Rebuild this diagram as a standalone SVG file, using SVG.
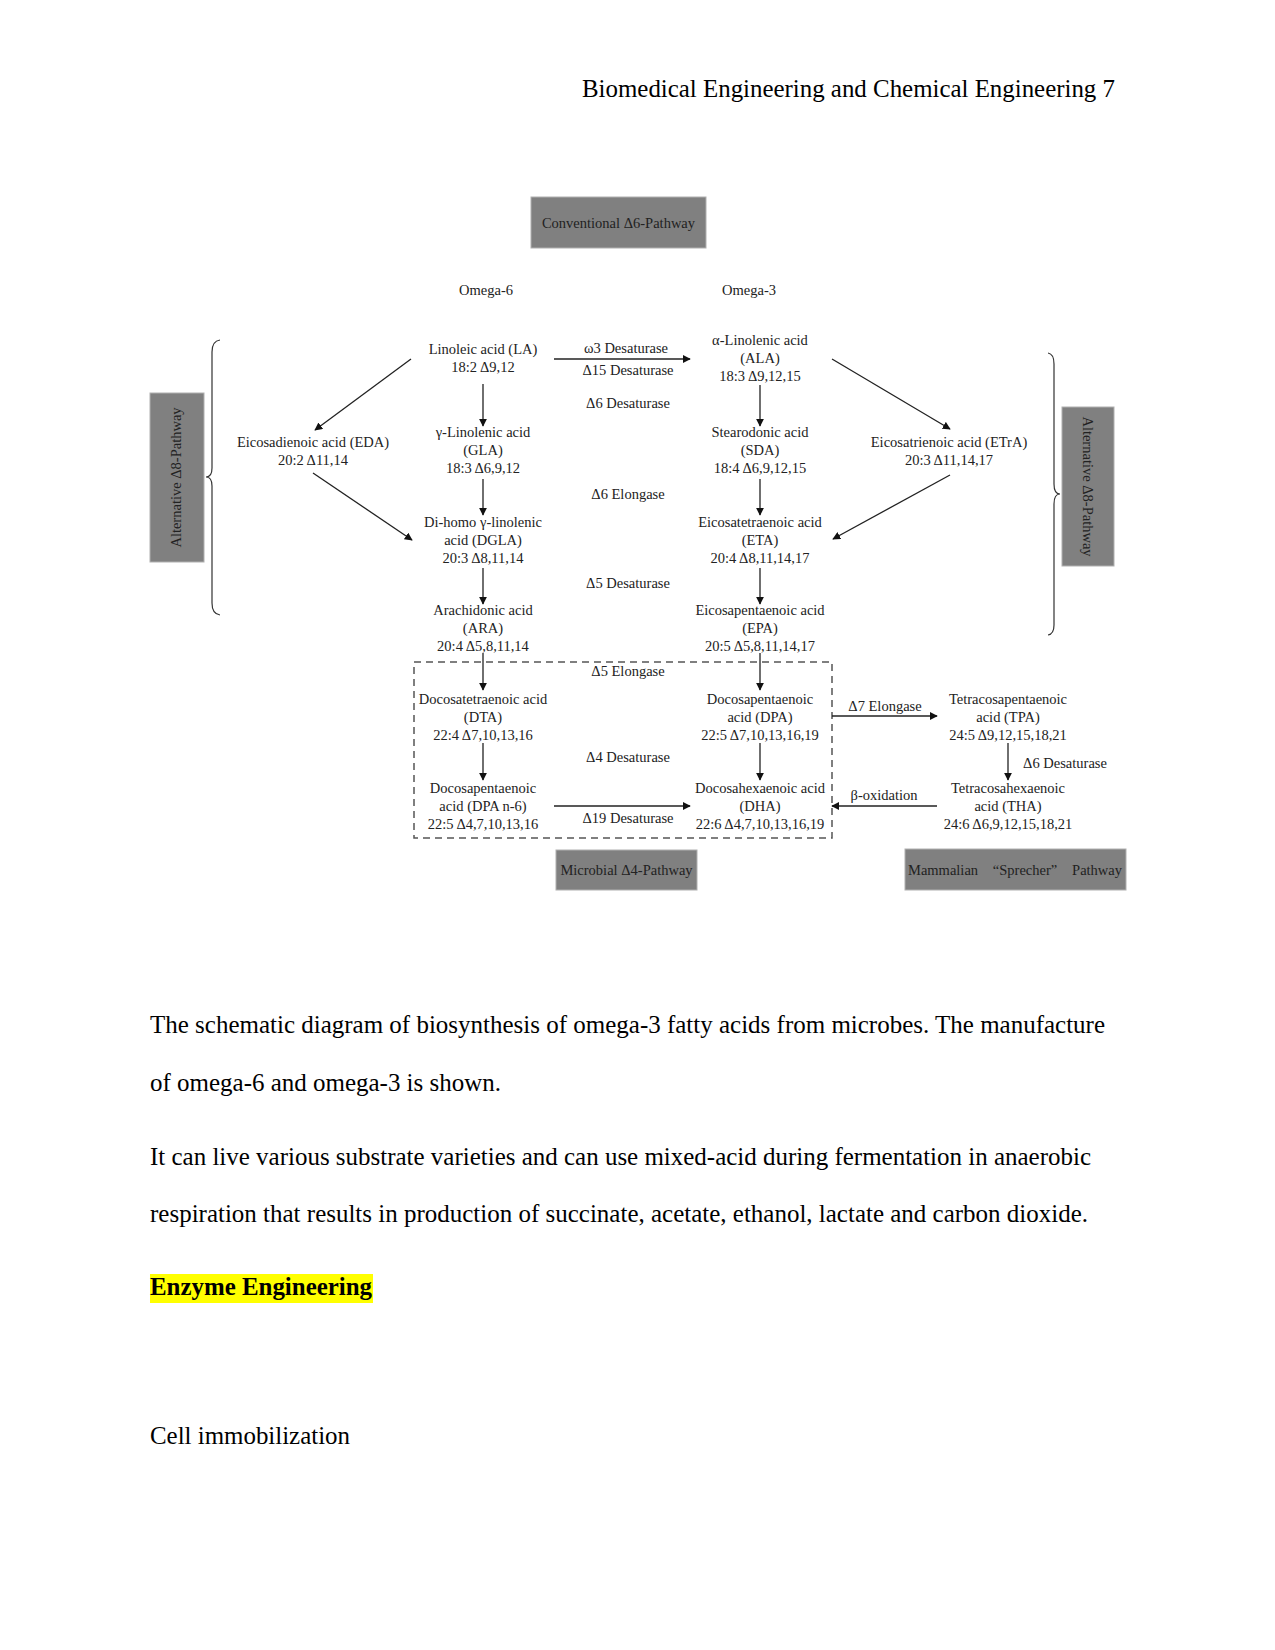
<svg xmlns="http://www.w3.org/2000/svg" width="1275" height="1650" viewBox="0 0 1275 1650">
<defs>
<marker id="ah" viewBox="0 0 10 10" refX="9" refY="5" markerWidth="8" markerHeight="8" markerUnits="userSpaceOnUse" orient="auto">
<path d="M0,0 L10,5 L0,10 z" fill="#111"/>
</marker>
<style>
.t{font-family:"Liberation Serif","Times New Roman",serif;font-size:14.5px;fill:#222;text-anchor:middle}
.b{font-family:"Liberation Serif","Times New Roman",serif;font-size:25px;fill:#000}
.box{fill:#808080;stroke:#b0b0b0;stroke-width:1}
.c{stroke:#222;stroke-width:1.3;fill:none;marker-end:url(#ah)}
.br{stroke:#333;stroke-width:1.2;fill:none}
</style>
</defs>
<rect width="1275" height="1650" fill="#fff"/>
<text class="b" x="1115" y="97" text-anchor="end" textLength="533" lengthAdjust="spacingAndGlyphs">Biomedical Engineering and Chemical Engineering 7</text>

<g id="box-conventional"><rect class="box" x="531" y="197" width="175" height="51"/><text class="t" x="618.5" y="228">Conventional Δ6-Pathway</text></g>
<g id="label-omega6"><text class="t" x="486" y="295">Omega-6</text></g>
<g id="label-omega3"><text class="t" x="749" y="295">Omega-3</text></g>

<g id="node-LA"><text class="t" x="483" y="354">Linoleic acid (LA)</text><text class="t" x="483" y="372">18:2 Δ9,12</text></g>
<g id="node-ALA"><text class="t" x="760" y="345">α-Linolenic acid</text><text class="t" x="760" y="363">(ALA)</text><text class="t" x="760" y="381">18:3 Δ9,12,15</text></g>
<g id="node-GLA"><text class="t" x="483" y="437">γ-Linolenic acid</text><text class="t" x="483" y="455">(GLA)</text><text class="t" x="483" y="473">18:3 Δ6,9,12</text></g>
<g id="node-SDA"><text class="t" x="760" y="437">Stearodonic acid</text><text class="t" x="760" y="455">(SDA)</text><text class="t" x="760" y="473">18:4 Δ6,9,12,15</text></g>
<g id="node-EDA"><text class="t" x="313" y="447">Eicosadienoic acid (EDA)</text><text class="t" x="313" y="465">20:2 Δ11,14</text></g>
<g id="node-ETrA"><text class="t" x="949" y="447">Eicosatrienoic acid (ETrA)</text><text class="t" x="949" y="465">20:3 Δ11,14,17</text></g>
<g id="node-DGLA"><text class="t" x="483" y="527">Di-homo γ-linolenic</text><text class="t" x="483" y="545">acid (DGLA)</text><text class="t" x="483" y="563">20:3 Δ8,11,14</text></g>
<g id="node-ETA"><text class="t" x="760" y="527">Eicosatetraenoic acid</text><text class="t" x="760" y="545">(ETA)</text><text class="t" x="760" y="563">20:4 Δ8,11,14,17</text></g>
<g id="node-ARA"><text class="t" x="483" y="615">Arachidonic acid</text><text class="t" x="483" y="633">(ARA)</text><text class="t" x="483" y="651">20:4 Δ5,8,11,14</text></g>
<g id="node-EPA"><text class="t" x="760" y="615">Eicosapentaenoic acid</text><text class="t" x="760" y="633">(EPA)</text><text class="t" x="760" y="651">20:5 Δ5,8,11,14,17</text></g>
<g id="node-DTA"><text class="t" x="483" y="704">Docosatetraenoic acid</text><text class="t" x="483" y="722">(DTA)</text><text class="t" x="483" y="740">22:4 Δ7,10,13,16</text></g>
<g id="node-DPA"><text class="t" x="760" y="704">Docosapentaenoic</text><text class="t" x="760" y="722">acid (DPA)</text><text class="t" x="760" y="740">22:5 Δ7,10,13,16,19</text></g>
<g id="node-TPA"><text class="t" x="1008" y="704">Tetracosapentaenoic</text><text class="t" x="1008" y="722">acid (TPA)</text><text class="t" x="1008" y="740">24:5 Δ9,12,15,18,21</text></g>
<g id="node-DPAn6"><text class="t" x="483" y="793">Docosapentaenoic</text><text class="t" x="483" y="811">acid (DPA n-6)</text><text class="t" x="483" y="829">22:5 Δ4,7,10,13,16</text></g>
<g id="node-DHA"><text class="t" x="760" y="793">Docosahexaenoic acid</text><text class="t" x="760" y="811">(DHA)</text><text class="t" x="760" y="829">22:6 Δ4,7,10,13,16,19</text></g>
<g id="node-THA"><text class="t" x="1008" y="793">Tetracosahexaenoic</text><text class="t" x="1008" y="811">acid (THA)</text><text class="t" x="1008" y="829">24:6 Δ6,9,12,15,18,21</text></g>

<g id="enzyme-labels">
<text class="t" x="626" y="353">ω3 Desaturase</text>
<text class="t" x="628" y="375">Δ15 Desaturase</text>
<text class="t" x="628" y="408">Δ6 Desaturase</text>
<text class="t" x="628" y="499">Δ6 Elongase</text>
<text class="t" x="628" y="588">Δ5 Desaturase</text>
<text class="t" x="628" y="676">Δ5 Elongase</text>
<text class="t" x="628" y="762">Δ4 Desaturase</text>
<text class="t" x="628" y="823">Δ19 Desaturase</text>
<text class="t" x="885" y="711">Δ7 Elongase</text>
<text class="t" x="1065" y="768">Δ6 Desaturase</text>
<text class="t" x="884" y="800">β-oxidation</text>
</g>

<g id="box-microbial"><rect x="414" y="662" width="418" height="176" fill="none" stroke="#555" stroke-width="1.5" stroke-dasharray="7,5"/><rect class="box" x="556" y="850" width="141" height="40"/><text class="t" x="626.5" y="875">Microbial Δ4-Pathway</text></g>
<g id="box-mammalian"><rect class="box" x="905" y="849" width="221" height="41"/><text class="t" x="908" y="875" style="text-anchor:start">Mammalian</text><text class="t" x="1025" y="875">“Sprecher”</text><text class="t" x="1122" y="875" style="text-anchor:end">Pathway</text></g>
<g id="box-alt-left"><rect class="box" x="150" y="393" width="54" height="169"/><text class="t" transform="translate(181,477.5) rotate(-90)" x="0" y="0">Alternative Δ8-Pathway</text></g>
<g id="box-alt-right"><rect class="box" x="1062" y="407" width="52" height="159"/><text class="t" transform="translate(1083,486.5) rotate(90)" x="0" y="0">Alternative Δ8-Pathway</text></g>

<g id="braces">
<path class="br" d="M220,340 Q212,341 212,352 L212,468 Q212,477 206,477 Q212,477 212,486 L212,603 Q212,614 220,615"/>
<path class="br" d="M1048,353 Q1054,354 1054,364 L1054,484 Q1054,494 1060,494 Q1054,494 1054,504 L1054,625 Q1054,634 1048,635"/>
</g>

<g id="connectors">
<line class="c" x1="483" y1="384" x2="483" y2="426"/>
<line class="c" x1="483" y1="479" x2="483" y2="515"/>
<line class="c" x1="483" y1="568" x2="483" y2="604"/>
<line class="c" x1="483" y1="653" x2="483" y2="690"/>
<line class="c" x1="483" y1="743" x2="483" y2="780"/>
<line class="c" x1="760" y1="385" x2="760" y2="426"/>
<line class="c" x1="760" y1="479" x2="760" y2="515"/>
<line class="c" x1="760" y1="568" x2="760" y2="604"/>
<line class="c" x1="760" y1="653" x2="760" y2="690"/>
<line class="c" x1="760" y1="743" x2="760" y2="780"/>
<line class="c" x1="1008" y1="743" x2="1008" y2="780"/>
<line class="c" x1="554" y1="359" x2="690" y2="359"/>
<line class="c" x1="554" y1="806" x2="690" y2="806"/>
<line class="c" x1="832" y1="716" x2="937" y2="716"/>
<line class="c" x1="937" y1="806" x2="832" y2="806"/>
<line class="c" x1="411" y1="359" x2="315" y2="430"/>
<line class="c" x1="313" y1="473" x2="412" y2="540"/>
<line class="c" x1="832" y1="359" x2="950" y2="429"/>
<line class="c" x1="950" y1="475" x2="833" y2="539"/>
</g>

<text class="b" x="150" y="1033" textLength="955" lengthAdjust="spacingAndGlyphs">The schematic diagram of biosynthesis of omega-3 fatty acids from microbes. The manufacture</text>
<text class="b" x="150" y="1091" textLength="351" lengthAdjust="spacingAndGlyphs">of omega-6 and omega-3 is shown.</text>
<text class="b" x="150" y="1165" textLength="941" lengthAdjust="spacingAndGlyphs">It can live various substrate varieties and can use mixed-acid during fermentation in anaerobic</text>
<text class="b" x="150" y="1222" textLength="938" lengthAdjust="spacingAndGlyphs">respiration that results in production of succinate, acetate, ethanol, lactate and carbon dioxide.</text>
<rect x="150" y="1274" width="223" height="29" fill="#ffff00"/>
<text class="b" x="150" y="1295" font-weight="bold" textLength="222" lengthAdjust="spacingAndGlyphs">Enzyme Engineering</text>
<text class="b" x="150" y="1444" textLength="200" lengthAdjust="spacingAndGlyphs">Cell immobilization</text>
</svg>
